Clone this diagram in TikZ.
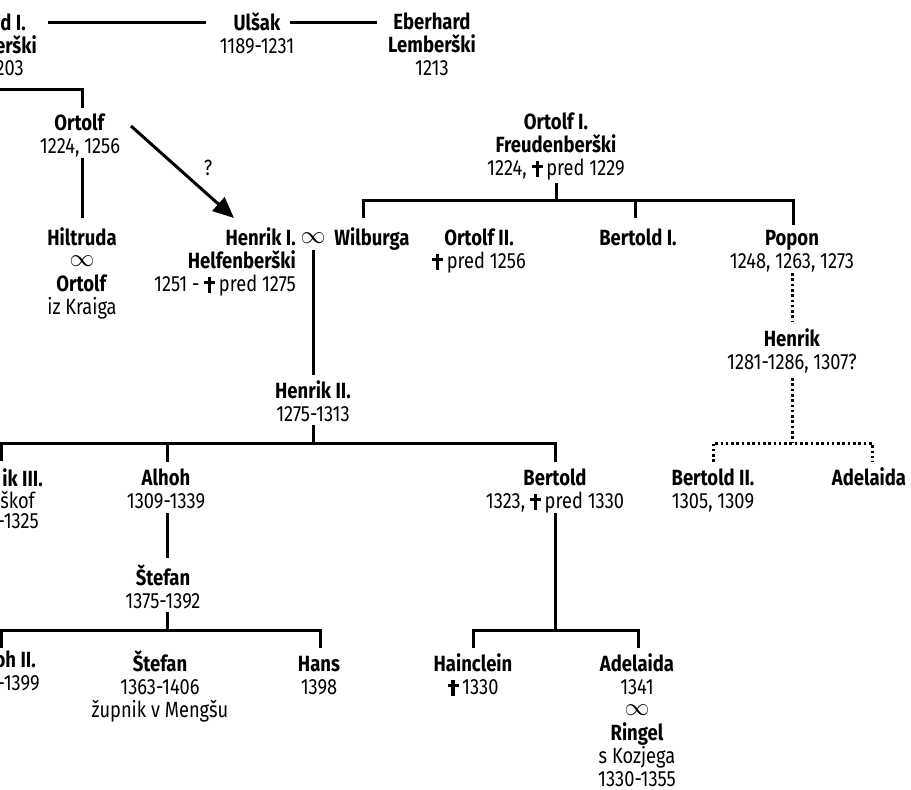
\documentclass[tikz,border=0pt]{standalone}
\usepackage{fontspec}
\setmainfont{Fira Sans}[FakeStretch=0.83, BoldFeatures={FakeStretch=0.84}]
\usetikzlibrary{arrows.meta}
\newcommand\fl[1]{\textbf{\vphantom{Š}#1}}
\newcommand\dcr{\makebox[0.5em][l]{\hspace{0.18em}\rule[-0.03em]{0.14em}{0.69em}\hspace{-0.32em}\rule[0.36em]{0.5em}{0.13em}}}
\newcommand\inff{\raisebox{0.09em}{\fontsize{23}{23}\selectfont$\infty$}}
\begin{document}
\begin{tikzpicture}[x=1pt,y=-1pt,
  every node/.style={inner sep=0pt, font=\fontsize{22}{23}\selectfont, align=center},
  person/.style={anchor=north},
  frag/.style={anchor=base east},
  link/.style={line width=3pt},
  dotlink/.style={line width=3pt, dash pattern=on 2.6pt off 2.7pt},
]
\useasboundingbox (0,0) rectangle (911,790);

% ---- fragments cut at the left edge
\node[frag] (fa) at (26,30) {\textbf{d I.}};
\node[frag] (fb) at (37,53) {\textbf{erški}};
\node[frag] (fc) at (24,75) {203};
\node[frag] (fd) at (43,486) {\textbf{ik III.}};
\node[frag] (fe) at (35,508) {škof};
\node[frag] (ff) at (39,528) {-1325};
\node[frag] (fg) at (36,667) {\textbf{oh II.}};
\node[frag] (fh) at (40,690) {-1399};

% ---- persons
\node[person] (ulsak) at (257,10) {\fl{Ulšak}\\1189-1231};
\node[person] (eberhard) at (432,9) {\fl{Eberhard}\\\textbf{Lemberški}\\1213};
\node[person] (ortolf) at (80,110) {\fl{Ortolf}\\1224, 1256};
\node[person] (hiltruda) at (82,225) {\fl{Hiltruda}\\\inff\\\textbf{Ortolf}\\iz Kraiga};
\node[person,anchor=north east,align=right] (henrik1) at (296,225) {\fl{Henrik I.}\\\textbf{Helfenberški}\\1251 - \dcr\,pred 1275};
\node[person] (inf1) at (313,225) {\vphantom{Š}\inff};
\node[person] (wilburga) at (372,225) {\fl{Wilburga}};
\node[person] (ortolf1) at (556,109) {\fl{Ortolf I.}\\\textbf{Freudenberški}\\1224, \dcr\,pred 1229};
\node[person] (ortolf2) at (479,225) {\fl{Ortolf II.}\\\dcr\,pred 1256};
\node[person] (bertold1) at (638,225) {\fl{Bertold I.}};
\node[person] (popon) at (792,225) {\fl{Popon}\\1248, 1263, 1273};
\node[person] (henrikp) at (792,326) {\fl{Henrik}\\1281-1286, 1307?};
\node[person] (bertold2) at (713,465) {\fl{Bertold II.}\\1305, 1309};
\node[person] (adelaida1) at (869,465) {\fl{Adelaida}};
\node[person] (henrik2) at (313,378) {\fl{Henrik II.}\\1275-1313};
\node[person] (alhoh) at (166,465) {\fl{Alhoh}\\1309-1339};
\node[person] (bertold) at (555,465) {\fl{Bertold}\\1323, \dcr\,pred 1330};
\node[person] (stefan1) at (163,565) {\fl{Štefan}\\1375-1392};
\node[person] (stefan2) at (160,651) {\fl{Štefan}\\1363-1406\\župnik v Mengšu};
\node[person] (hans) at (319,651) {\fl{Hans}\\1398};
\node[person] (hainclein) at (473,651) {\fl{Hainclein}\\\dcr\,1330};
\node[person] (adelaida2) at (637,651) {\fl{Adelaida}\\1341\\\inff\\\textbf{Ringel}\\s Kozjega\\1330-1355};
\node (q) at (208,168) {?};

% ---- junction coordinates
\coordinate (t0) at (48,22);
\coordinate (t1) at (206,22);
\coordinate (t2) at (290,22);
\coordinate (t3) at (377,22);
\coordinate (o0) at (0,89);
\coordinate (o1) at (82,89);
\coordinate (o2) at (82,108);
\coordinate (o3) at (82,158);
\coordinate (o4) at (82,218);
\coordinate (a0) at (131,126);
\coordinate (a1) at (234,218);
\coordinate (h0) at (313,250);
\coordinate (h1) at (313,375);
\coordinate (f0) at (556,183);
\coordinate (f1) at (556,200);
\coordinate (fw) at (363,200);
\coordinate (fw2) at (363,218);
\coordinate (fb1) at (635,200);
\coordinate (fb2) at (635,218);
\coordinate (fp) at (793,200);
\coordinate (fp2) at (793,225);
\coordinate (p0) at (792,273);
\coordinate (p1) at (792,321);
\coordinate (p2) at (792,378);
\coordinate (p3) at (792,443);
\coordinate (pl) at (713,443);
\coordinate (pl2) at (713,462);
\coordinate (pr) at (872,443);
\coordinate (pr2) at (872,462);
\coordinate (g0) at (313,425);
\coordinate (g1) at (313,443);
\coordinate (gl) at (1,443);
\coordinate (gl2) at (1,461);
\coordinate (ga) at (167,443);
\coordinate (ga2) at (167,462);
\coordinate (gb) at (555,443);
\coordinate (gb2) at (555,462);
\coordinate (s0) at (167,513);
\coordinate (s1) at (167,558);
\coordinate (s2) at (167,612);
\coordinate (s3) at (167,630);
\coordinate (sl) at (1,630);
\coordinate (sl2) at (1,648);
\coordinate (sh) at (320,630);
\coordinate (sh2) at (320,648);
\coordinate (b0) at (555,513);
\coordinate (b1) at (555,630);
\coordinate (bl) at (473,630);
\coordinate (bl2) at (473,648);
\coordinate (br) at (638,630);
\coordinate (br2) at (638,648);

% ---- connectors
\draw[link] (t0) -- (t1);
\draw[link] (t2) -- (t3);
\draw[link] (o0) -- (o1) -- (o2);
\draw[link] (o3) -- (o4);
\draw[link,-{Triangle[length=21pt,width=18pt]}] (a0) -- (a1);
\draw[link] (h0) -- (h1);
\draw[link] (f0) -- (f1);
\draw[link] (fw2) -- (fw) -- (fp) -- (fp2);
\draw[link] (fb1) -- (fb2);
\draw[dotlink] (p0) -- (p1);
\draw[dotlink] (p2) -- (p3);
\draw[dotlink] (pl2) -- (pl) -- (pr) -- (pr2);
\draw[link] (g0) -- (g1);
\draw[link] (gl2) -- (gl) -- (gb) -- (gb2);
\draw[link] (ga) -- (ga2);
\draw[link] (s0) -- (s1);
\draw[link] (s2) -- (s3);
\draw[link] (sl2) -- (sl) -- (sh) -- (sh2);
\draw[link] (b0) -- (b1);
\draw[link] (bl2) -- (bl) -- (br) -- (br2);
\end{tikzpicture}
\end{document}
